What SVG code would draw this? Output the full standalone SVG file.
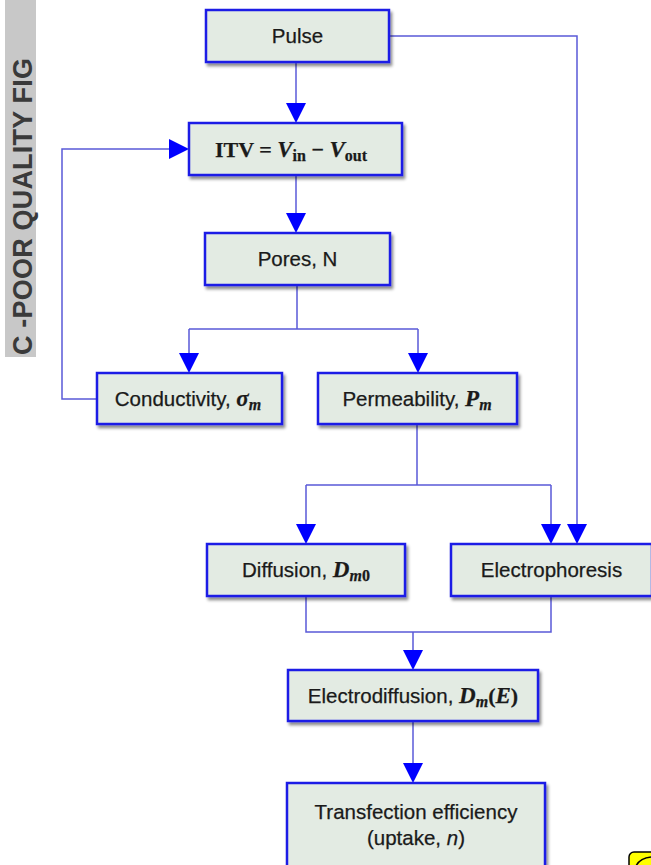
<svg xmlns="http://www.w3.org/2000/svg" width="651" height="865" viewBox="0 0 651 865">
<style>
.box{fill:#e3ebe3;stroke:#1c1ce6;stroke-width:2.5;filter:url(#sh)}
.lbl{font-family:"Liberation Sans",Arial,sans-serif;font-size:20.5px;fill:#1a1a1a;text-anchor:middle;stroke:#1a1a1a;stroke-width:0.25}
.m{font-family:"Liberation Serif","Times New Roman",serif;font-weight:bold;font-style:italic;font-size:23px}
.mr{font-family:"Liberation Serif","Times New Roman",serif;font-weight:bold;font-size:22px}
.sub{font-size:16px}
.ln{fill:none;stroke:#5a5ad8;stroke-width:1.5}
.ah{fill:#0000ff}
</style>
<defs>
<filter id="sh" x="-10%" y="-20%" width="130%" height="150%">
<feDropShadow dx="2" dy="3" stdDeviation="1.8" flood-color="#000" flood-opacity="0.45"/>
</filter>
<path id="arr" d="M-10,-20 L10,-20 L0,0 Z" class="ah"/>
<path id="arrR" d="M-20,-10 L-20,10 L0,0 Z" class="ah"/>
</defs>
<rect width="651" height="865" fill="#fff"/>
<g id="banner">
<rect x="5" y="0" width="31" height="357" fill="#c8c8c8"/>
<text transform="translate(32,355) rotate(-90)" font-family="Liberation Sans,Arial,sans-serif" font-weight="bold" font-size="27" fill="#3a3a3a" textLength="297">C -POOR QUALITY FIG</text>
</g>
<g id="connectors">
<path class="ln" d="M296,62 V104"/>
<use href="#arr" x="296" y="123"/>
<path class="ln" d="M296,175 V214"/>
<use href="#arr" x="296" y="233"/>
<path class="ln" d="M297,285 V329 M189,329 H418 M189,329 V354 M418,329 V354"/>
<use href="#arr" x="189" y="373"/>
<use href="#arr" x="418" y="373"/>
<path class="ln" d="M97,399 H62 V149 H170"/>
<use href="#arrR" x="189" y="149"/>
<path class="ln" d="M389,36 H577 V525"/>
<use href="#arr" x="577" y="544"/>
<path class="ln" d="M417,424 V485 M306,485 H551 M306,485 V525 M551,485 V525"/>
<use href="#arr" x="306" y="544"/>
<use href="#arr" x="551" y="544"/>
<path class="ln" d="M306,596 V632 H551 V596 M413,632 V651"/>
<use href="#arr" x="413" y="670"/>
<path class="ln" d="M413,721 V764"/>
<use href="#arr" x="413" y="783"/>
</g>
<g id="pulse">
<rect class="box" x="206" y="10" width="183" height="52"/>
<text class="lbl" x="297.5" y="43">Pulse</text>
</g>
<g id="itv">
<rect class="box" x="189" y="123" width="213" height="52"/>
<text class="lbl" x="291" y="157"><tspan class="mr">ITV = </tspan><tspan class="m">V</tspan><tspan class="mr sub" dy="4">in</tspan><tspan class="mr" dy="-4"> − </tspan><tspan class="m">V</tspan><tspan class="mr sub" dy="4">out</tspan></text>
</g>
<g id="pores">
<rect class="box" x="205" y="233" width="185" height="52"/>
<text class="lbl" x="297.5" y="266">Pores, N</text>
</g>
<g id="conductivity">
<rect class="box" x="97" y="373" width="185" height="51"/>
<text class="lbl" x="188" y="406">Conductivity, <tspan class="m">σ</tspan><tspan class="m sub" dy="4">m</tspan></text>
</g>
<g id="permeability">
<rect class="box" x="318" y="373" width="199" height="51"/>
<text class="lbl" x="417" y="406">Permeability, <tspan class="m">P</tspan><tspan class="m sub" dy="4">m</tspan></text>
</g>
<g id="diffusion">
<rect class="box" x="207" y="544" width="198" height="52"/>
<text class="lbl" x="306" y="577">Diffusion, <tspan class="m">D</tspan><tspan class="m sub" dy="4">m</tspan><tspan class="mr sub">0</tspan></text>
</g>
<g id="electrophoresis">
<rect class="box" x="451" y="544" width="201" height="52"/>
<text class="lbl" x="551.5" y="577">Electrophoresis</text>
</g>
<g id="electrodiffusion">
<rect class="box" x="288" y="670" width="250" height="51"/>
<text class="lbl" x="413" y="703">Electrodiffusion, <tspan class="m">D</tspan><tspan class="m sub" dy="4">m</tspan><tspan class="mr" dy="-4">(</tspan><tspan class="m">E</tspan><tspan class="mr">)</tspan></text>
</g>
<g id="transfection">
<rect class="box" x="287" y="783" width="258" height="84"/>
<text class="lbl" x="416" y="819">Transfection efficiency</text>
<text class="lbl" x="416" y="845">(uptake, <tspan font-style="italic">n</tspan>)</text>
</g>
<g id="artifact">
<rect x="629" y="852" width="30" height="22" rx="5" fill="#ffff00" stroke="#000" stroke-width="1.5"/>
<path d="M636,866 Q640,858 651,857" fill="none" stroke="#000" stroke-width="1.5"/>
</g>
</svg>
